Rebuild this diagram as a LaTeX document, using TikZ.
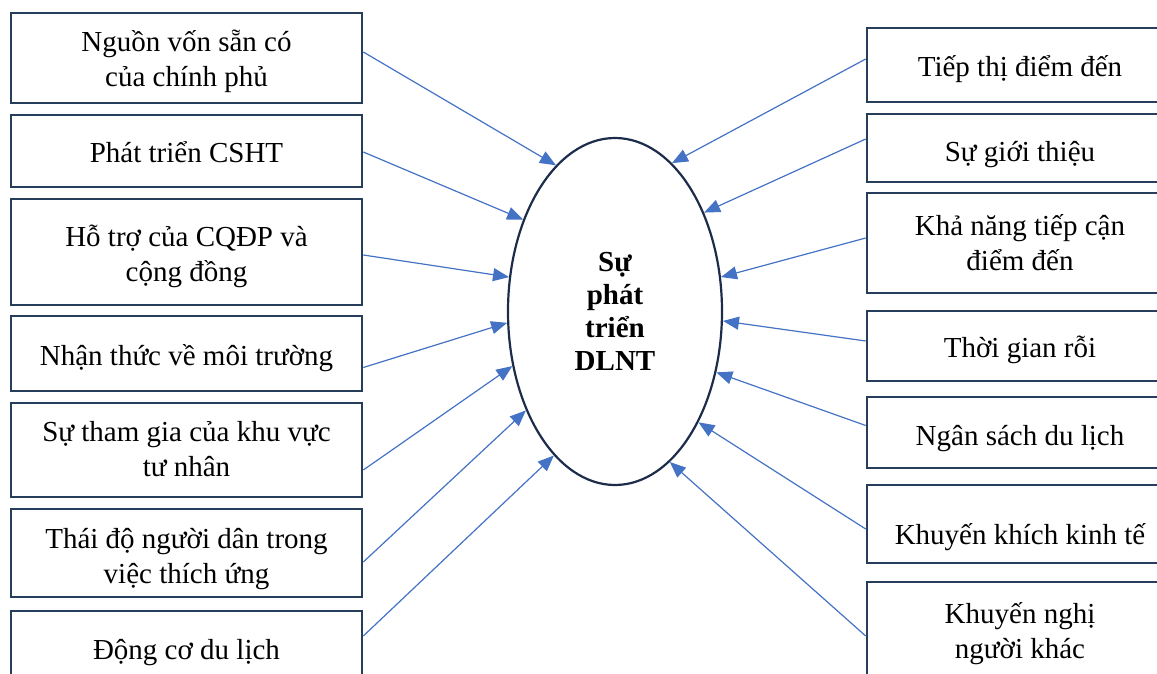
\documentclass[tikz,border=0pt]{standalone}
\usepackage{fontspec}
\setmainfont{Liberation Serif}
\usetikzlibrary{shapes.geometric,arrows.meta}
\definecolor{boxline}{RGB}{38,62,92}
\definecolor{hubline}{RGB}{28,44,74}
\definecolor{arrowblue}{RGB}{68,114,196}
% lower the text inside a box without changing the box
\newcommand{\dropped}[2]{\raisebox{-#1}[\height][\depth]{\begin{tabular}{@{}c@{}}#2\end{tabular}}}

\begin{document}
\begin{tikzpicture}[x=0.5pt,y=-0.5pt,
    box/.style={draw=boxline,line width=1.3pt,inner sep=2pt,
                font=\fontsize{14.5pt}{17.5pt}\selectfont},
    lbox/.style={box,minimum width=175.5pt},
    rbox/.style={box,minimum width=153pt},
    hub/.style={ellipse,draw=hubline,line width=1.1pt,minimum width=107pt,minimum height=173.5pt,
                inner sep=0pt,align=center,font=\fontsize{14.5pt}{16.5pt}\selectfont\bfseries},
    >={Triangle[length=8pt,width=6.5pt]}]
      \clip (0,0) rectangle (1157,674);

      \node[hub] (Dev) at (615,311.5) {Sự\\ phát\\ triển\\ DLNT};

      % left column
      \node[lbox,minimum height=45pt]   (Funds)        at (186.5,58)  {\dropped{2pt}{Nguồn vốn sẵn có\\ của chính phủ}};
      \node[lbox,minimum height=36pt]   (Infra)        at (186.5,151) {\dropped{2.5pt}{Phát triển CSHT}};
      \node[lbox,minimum height=53pt]   (LocalSupport) at (186.5,252) {\dropped{2.5pt}{Hỗ trợ của CQĐP và\\ cộng đồng}};
      \node[lbox,minimum height=37.5pt] (EnvAware)     at (186.5,353.5) {\dropped{2.5pt}{Nhận thức về môi trường}};
      \node[lbox,minimum height=47pt]   (Private)      at (186.5,450) {\dropped{1pt}{Sự tham gia của khu vực\\ tư nhân}};
      \node[lbox,minimum height=44pt]   (Attitude)     at (186.5,553) {\dropped{3pt}{Thái độ người dân trong\\ việc thích ứng}};
      \node[lbox,minimum height=38pt]   (Motive)       at (186.5,649) {\dropped{1.5pt}{Động cơ du lịch}};

      % right column
      \node[rbox,minimum height=37pt]   (Marketing)    at (1020,65)   {\dropped{2.5pt}{Tiếp thị điểm đến}};
      \node[rbox,minimum height=34pt]   (Referral)     at (1020,148)  {\dropped{3.5pt}{Sự giới thiệu}};
      \node[rbox,minimum height=50pt]   (Access)       at (1020,243)  {\dropped{1.5pt}{Khả năng tiếp cận\\ điểm đến}};
      \node[rbox,minimum height=35pt]   (Leisure)      at (1020,346)  {\dropped{2pt}{Thời gian rỗi}};
      \node[rbox,minimum height=35.5pt] (Budget)       at (1020,432.5) {\dropped{3pt}{Ngân sách du lịch}};
      \node[rbox,minimum height=39pt]   (Incentive)    at (1020,524)  {\dropped{6.5pt}{Khuyến khích kinh tế}};
      \node[rbox,minimum height=49pt]   (Recommend)    at (1020,631)  {\dropped{1.5pt}{Khuyến nghị\\ người khác}};

      \path[->,arrowblue,line width=0.6pt]
            ([yshift=3pt]Funds.east)          edge (Dev.112.7)
            ([yshift=-0.5pt]Infra.east)       edge (Dev.135.5)
            ([yshift=-1.5pt]LocalSupport.east) edge (Dev.162.3)
            ([yshift=-7pt]EnvAware.east)      edge (Dev.186.9)
            ([yshift=-10pt]Private.east)      edge (Dev.208.3)
            ([yshift=-4.5pt]Attitude.east)    edge (Dev.228.4)
            ([yshift=6.5pt]Motive.east)       edge (Dev.247.3)
            ([yshift=3pt]Marketing.west)      edge (Dev.69)
            ([yshift=4.5pt]Referral.west)     edge (Dev.48.7)
            ([yshift=2.5pt]Access.west)       edge (Dev.18)
            ([yshift=2.5pt]Leisure.west)      edge (Dev.-5.9)
            ([yshift=3.5pt]Budget.west)       edge (Dev.-31)
            ([yshift=-2.5pt]Incentive.west)   edge (Dev.-53.4)
            ([yshift=-2.5pt]Recommend.west)   edge (Dev.-70.2);
\end{tikzpicture}
\end{document}
